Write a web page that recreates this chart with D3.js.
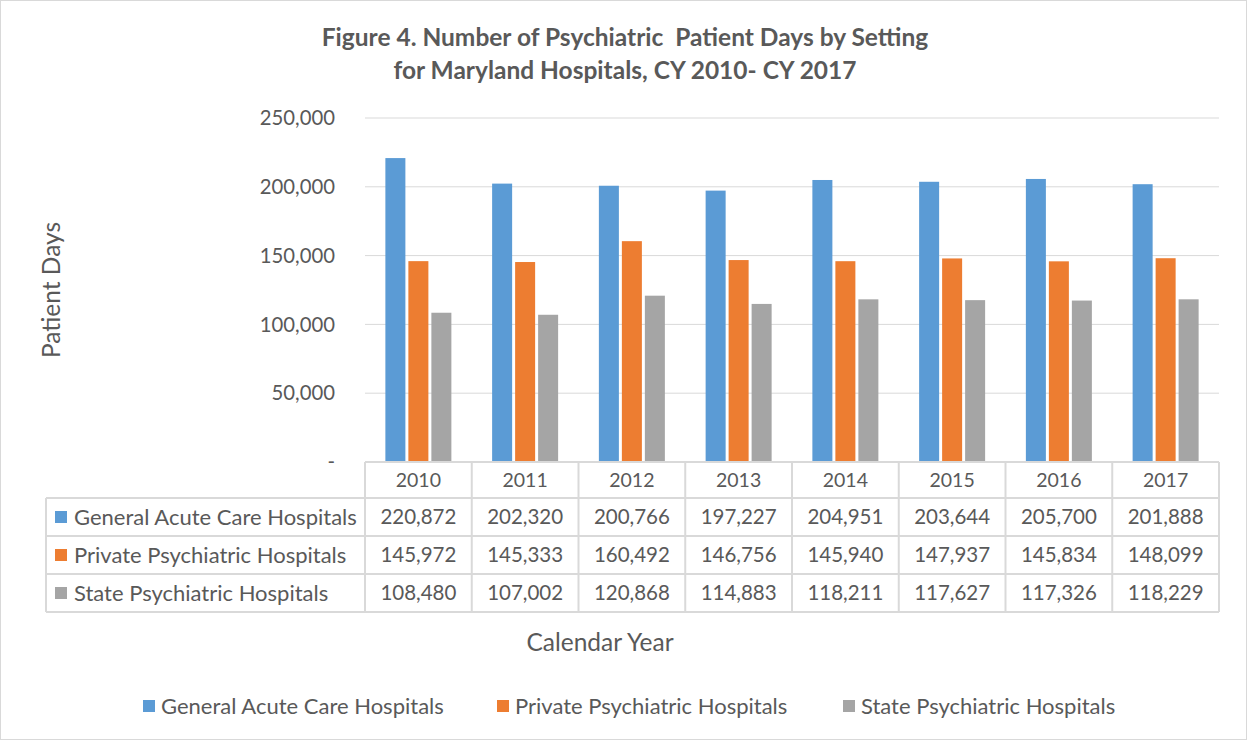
<!DOCTYPE html>
<html><head><meta charset="utf-8">
<script src="https://cdn.jsdelivr.net/npm/d3@7"></script>
<style>body{margin:0;background:#fff;} svg{display:block;font-family:Lato, "Open Sans", sans-serif;}</style>
</head><body>
<svg id="c" width="1247" height="740"></svg>
<script>
const years = ["2010","2011","2012","2013","2014","2015","2016","2017"];
const seriesNames = ["General Acute Care Hospitals","Private Psychiatric Hospitals","State Psychiatric Hospitals"];
const generalAcute = [220872,202320,200766,197227,204951,203644,205700,201888];
const privatePsych = [145972,145333,160492,146756,145940,147937,145834,148099];
const statePsych = [108480,107002,120868,114883,118211,117627,117326,118229];
const yTicks = [0,50000,100000,150000,200000,250000];
const colors = ["#5B9BD5","#ED7D31","#A5A5A5"];
const seriesVals = [generalAcute, privatePsych, statePsych];

const svg = d3.select("#c");
const txt = "#595959";
svg.append("rect").attr("x",0.5).attr("y",0.5).attr("width",1246).attr("height",739).attr("fill","#fff").attr("stroke","#D9D9D9");

const L=365, R=1219, T=118, B=462;
const x = d3.scaleBand().domain(years).range([L,R]);
const y = d3.scaleLinear().domain([0,250000]).range([B,T]);
const xs = d3.scaleBand().domain(d3.range(3)).range([0,66]).paddingInner(0.13);

// gridlines
svg.append("g").selectAll("line").data(yTicks).join("line")
  .attr("x1",L).attr("x2",R).attr("y1",d=>y(d)).attr("y2",d=>y(d))
  .attr("stroke","#D9D9D9").attr("stroke-width",1);
// y labels
svg.append("g").selectAll("text").data(yTicks).join("text")
  .attr("x",335).attr("y",d=>y(d)).attr("dy","0.35em").attr("text-anchor","end")
  .attr("fill",txt).attr("font-size",20.3).text(d=>d===0?"-":d3.format(",")(d));

// bars
const g = svg.append("g");
years.forEach((yr,i)=>{
  const cx = x(yr)+x.bandwidth()/2 - 33;
  seriesVals.forEach((vals,s)=>{
    g.append("rect").attr("x",cx+xs(s)).attr("width",xs.bandwidth())
      .attr("y",y(vals[i])).attr("height",y(0)-y(vals[i])).attr("fill",colors[s]);
  });
});

// data table
const rowY=[462,498,536,574,612];
const tbl = svg.append("g");
const stroke="#D9D9D9";
tbl.append("line").attr("x1",L).attr("x2",R).attr("y1",462).attr("y2",462).attr("stroke",stroke).attr("stroke-width",2);
[498,536,574,612].forEach(yy=>tbl.append("line").attr("x1",46).attr("x2",R).attr("y1",yy).attr("y2",yy).attr("stroke",stroke).attr("stroke-width",2));
tbl.append("line").attr("x1",46).attr("x2",46).attr("y1",498).attr("y2",612).attr("stroke",stroke).attr("stroke-width",2);
years.forEach(yr=>tbl.append("line").attr("x1",x(yr)).attr("x2",x(yr)).attr("y1",462).attr("y2",612).attr("stroke",stroke).attr("stroke-width",2));
tbl.append("line").attr("x1",R).attr("x2",R).attr("y1",462).attr("y2",612).attr("stroke",stroke).attr("stroke-width",2);
years.forEach(yr=>tbl.append("text").attr("x",x(yr)+x.bandwidth()/2).attr("y",480).attr("dy","0.35em")
  .attr("text-anchor","middle").attr("fill",txt).attr("font-size",19.5).text(yr));
seriesNames.forEach((nm,s)=>{
  const cy=(rowY[s+1]+rowY[s+2])/2;
  tbl.append("rect").attr("x",55).attr("y",cy-6).attr("width",12).attr("height",12).attr("fill",colors[s]);
  tbl.append("text").attr("x",74).attr("y",cy).attr("dy","0.35em").attr("fill",txt).attr("font-size",22).text(nm);
  years.forEach((yr,i)=>tbl.append("text").attr("x",x(yr)+x.bandwidth()/2).attr("y",cy).attr("dy","0.35em")
    .attr("text-anchor","middle").attr("fill",txt).attr("font-size",20.5).text(d3.format(",")(seriesVals[s][i])));
});

// titles
svg.append("text").attr("x",625).attr("y",46).attr("text-anchor","middle").attr("fill",txt)
  .attr("font-size",24.5).attr("font-weight","bold").style("white-space","pre").text("Figure 4. Number of Psychiatric  Patient Days by Setting");
svg.append("text").attr("x",625).attr("y",79).attr("text-anchor","middle").attr("fill",txt)
  .attr("font-size",24.5).attr("font-weight","bold").text("for Maryland Hospitals, CY 2010- CY 2017");
svg.append("text").attr("transform","translate(60,290) rotate(-90)").attr("text-anchor","middle")
  .attr("fill",txt).attr("font-size",24.5).text("Patient Days");
svg.append("text").attr("x",600).attr("y",651).attr("text-anchor","middle")
  .attr("fill",txt).attr("font-size",24.5).text("Calendar Year");

// legend
const legX=[143,497,843];
seriesNames.forEach((nm,s)=>{
  svg.append("rect").attr("x",legX[s]).attr("y",700).attr("width",12).attr("height",12).attr("fill",colors[s]);
  svg.append("text").attr("x",legX[s]+18).attr("y",706).attr("dy","0.35em").attr("fill",txt).attr("font-size",22).text(nm);
});
</script>
</body></html>
